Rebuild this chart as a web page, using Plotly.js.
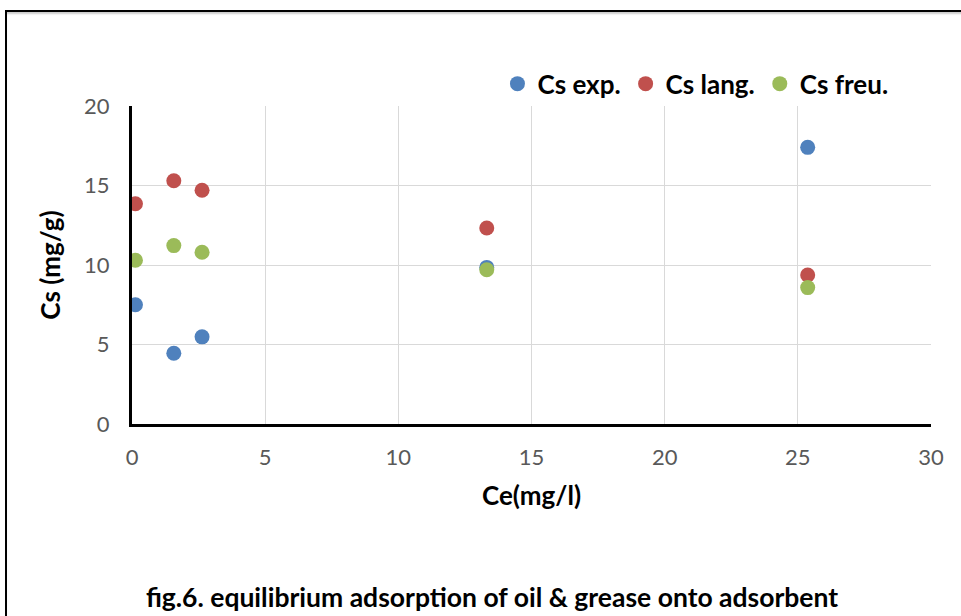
<!DOCTYPE html>
<html>
<head>
<meta charset="utf-8">
<script src="https://cdn.plot.ly/plotly-3.0.1.min.js"></script>
<style>
  html, body { margin: 0; padding: 0; background: #fff; }
  #frame { position: absolute; left: 5px; top: 10px; width: 970px; height: 620px;
           border-top: 2px solid #000; border-left: 2px solid #000;
           box-shadow: inset 0 3px 2px -1px #ccc; }
  #chart { position: absolute; left: 0; top: 0; width: 961px; height: 616px; }
</style>
</head>
<body>
<div id="frame"></div>
<div id="chart"></div>
<script>
const ce = [0.13, 1.57, 2.63, 13.32, 25.37];
const csExp = [7.5, 4.45, 5.48, 9.85, 17.4];
const csLang = [13.85, 15.3, 14.7, 12.33, 9.37];
const csFreu = [10.3, 11.22, 10.8, 9.7, 8.58];
const seriesNames = ['Cs exp.', 'Cs lang.', 'Cs freu.'];
const seriesColors = ['#4F81BD', '#C0504D', '#9BBB59'];

const ys = [csExp, csLang, csFreu];
const traces = ys.map((y, i) => ({
  type: 'scatter', mode: 'markers', x: ce, y: y, name: seriesNames[i],
  marker: { color: seriesColors[i], size: 15 }
}));

const layout = {
  width: 961, height: 616,
  paper_bgcolor: 'rgba(0,0,0,0)', plot_bgcolor: 'rgba(0,0,0,0)',
  margin: { l: 132, r: 30, t: 106, b: 192 },
  font: { family: 'Lato, "Noto Sans", sans-serif' },
  title: { text: '<b>fig.6. equilibrium adsorption of oil &amp; grease onto adsorbent</b>',
           font: { size: 26.5, color: '#000' }, xref: 'container', yref: 'container',
           x: 0.512, xanchor: 'center', y: 0.03, yanchor: 'middle' },
  showlegend: true,
  legend: { orientation: 'h', x: 0.953, xanchor: 'right', y: 1.07, yanchor: 'middle',
            font: { size: 26, color: '#000', weight: 'bold' }, itemwidth: 30, traceorder: 'normal' },
  xaxis: { range: [0, 30], dtick: 5, showgrid: true, gridcolor: '#d9d9d9', gridwidth: 1,
           zeroline: false, showline: true, linecolor: '#000', linewidth: 3,
           ticks: '', ticklabelstandoff: 12,
           tickfont: { size: 22, color: '#595959' },
           title: { text: '<b>Ce(mg/l)</b>', font: { size: 26, color: '#000' }, standoff: 18 } },
  yaxis: { range: [0, 20], dtick: 5, showgrid: true, gridcolor: '#d9d9d9', gridwidth: 1,
           zeroline: false, showline: true, linecolor: '#000', linewidth: 3,
           ticks: '', ticklabelstandoff: 15,
           tickfont: { size: 22, color: '#595959' },
           title: { text: '<b>Cs (mg/g)</b>', font: { size: 26, color: '#000' }, standoff: 16 } }
};

Plotly.newPlot('chart', traces, layout, { displayModeBar: false, staticPlot: true });
</script>
</body>
</html>
